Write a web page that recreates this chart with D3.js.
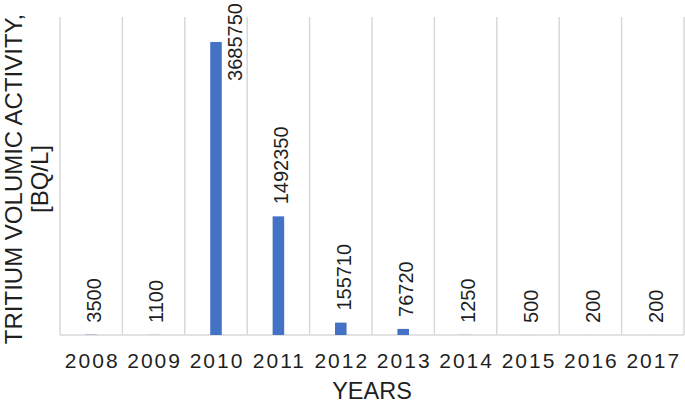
<!DOCTYPE html>
<html>
<head>
<meta charset="utf-8">
<script src="https://cdn.jsdelivr.net/npm/d3@7"></script>
<style>
  html, body { margin: 0; padding: 0; background: #fff; }
  svg { display: block; font-family: "Liberation Sans", Arial, sans-serif; }
</style>
</head>
<body>
<svg id="chart" width="685" height="403"></svg>
<script>
// ---- data ----
const years = ["2008", "2009", "2010", "2011", "2012", "2013", "2014", "2015", "2016", "2017"];
const values = [3500, 1100, 3685750, 1492350, 155710, 76720, 1250, 500, 200, 200];
const yDomain = [0, 4000000];
const xTitle = "YEARS";
const yTitleLines = ["TRITIUM VOLUMIC ACTIVITY,", "[BQ/L]"];

// ---- layout ----
const W = 685, H = 403;
const plot = { left: 60, right: 684, top: 17, bottom: 335 };
const barColor = "#4472C4";
const gridColor = "#d9d9d9";
const textColor = "#1f1f1f";

const svg = d3.select("#chart");

const x = d3.scaleBand().domain(years).range([plot.left, plot.right]).paddingInner(0).paddingOuter(0);
const y = d3.scaleLinear().domain(yDomain).range([plot.bottom, plot.top]);

const barFrac = 0.185;
const bw = x.bandwidth() * barFrac;

// vertical gridlines at category boundaries
const bounds = years.map(d => x(d)).concat([plot.right]);
svg.append("g").selectAll("line").data(bounds).join("line")
  .attr("x1", d => d).attr("x2", d => d)
  .attr("y1", plot.top).attr("y2", plot.bottom)
  .attr("stroke", gridColor).attr("stroke-width", 1.5);

// baseline
svg.append("line")
  .attr("x1", plot.left).attr("x2", plot.right)
  .attr("y1", plot.bottom).attr("y2", plot.bottom)
  .attr("stroke", gridColor).attr("stroke-width", 1.5);

// bars
const data = years.map((yr, i) => ({ yr, v: values[i] }));
svg.append("g").selectAll("rect").data(data).join("rect")
  .attr("x", d => x(d.yr) + (x.bandwidth() - bw) / 2)
  .attr("width", bw)
  .attr("y", d => y(d.v))
  .attr("height", d => y(0) - y(d.v))
  .attr("fill", barColor);

// data labels (rotated)
const labelFont = 20;
const gap = 12;
const lbls = svg.append("g").selectAll("text").data(data).join("text")
  .attr("font-size", labelFont)
  .attr("fill", textColor)
  .text(d => d.v);
lbls.each(function(d) {
  const t = d3.select(this);
  const len = this.getComputedTextLength();
  const cx = x(d.yr) + x.bandwidth() / 2;
  let ty = y(d.v) - gap;
  let tx = cx + 9.7;
  if (ty - len < 3) {
    // does not fit above the bar: move beside the bar, pinned to the top
    ty = 3 + len;
    tx = cx + bw / 2 + 20.5;
  }
  t.attr("transform", `translate(${tx},${ty}) rotate(-90)`);
});

// x axis labels
const xAxis = d3.axisBottom(x).tickSize(0).tickPadding(0);
const gx = svg.append("g").attr("transform", `translate(0,${plot.bottom})`).call(xAxis);
gx.select(".domain").remove();
gx.selectAll("text")
  .attr("font-size", 21)
  .attr("font-family", "Liberation Sans, Arial, sans-serif")
  .attr("fill", textColor)
  .attr("letter-spacing", 2)
  .attr("dx", 1)
  .attr("dy", null)
  .attr("y", 368 - plot.bottom);

// axis titles
svg.append("text")
  .attr("x", (plot.left + plot.right) / 2)
  .attr("y", 399)
  .attr("text-anchor", "middle")
  .attr("font-size", 23.5)
  .attr("fill", textColor)
  .text(xTitle);

const yMid = 179;
const yTitleX = [22, 48];
yTitleLines.forEach((ln, i) => {
  svg.append("text")
    .attr("transform", `translate(${yTitleX[i]},${yMid}) rotate(-90)`)
    .attr("text-anchor", "middle")
    .attr("font-size", 24)
    .attr("fill", textColor)
    .text(ln);
});
</script>
</body>
</html>
